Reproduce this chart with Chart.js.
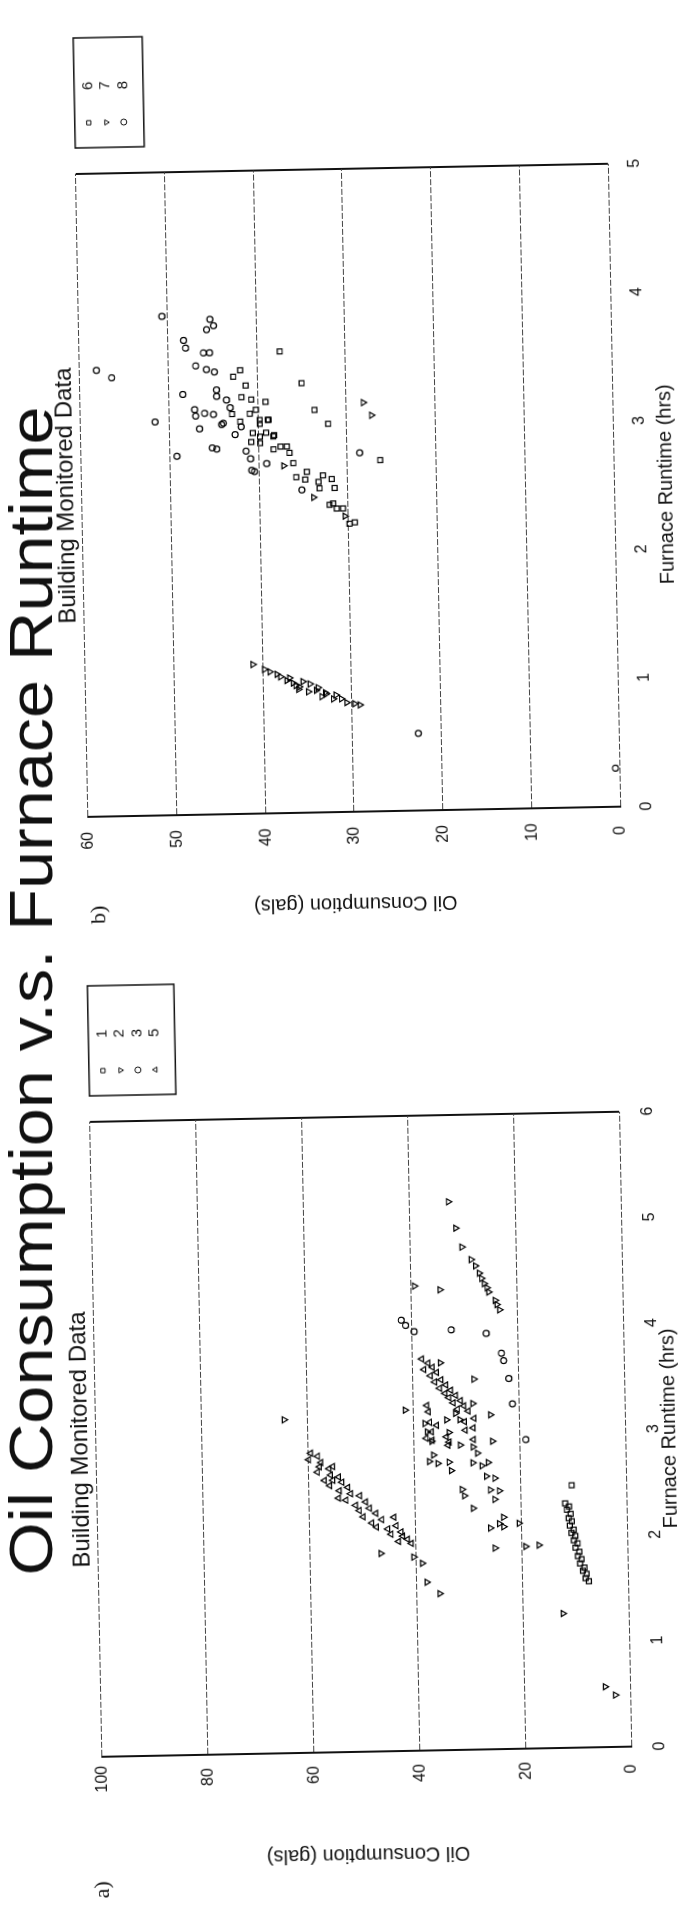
<!DOCTYPE html>
<html>
<head>
<meta charset="utf-8">
<title>Oil Consumption v.s. Furnace Runtime</title>
<script src="https://cdn.jsdelivr.net/npm/chart.js@4.4.1/dist/chart.umd.min.js"></script>
<style>
  html, body { margin: 0; padding: 0; background: #fff; }
  body { width: 687px; height: 1911px; overflow: hidden; position: relative; }
  /* the sheet is laid out landscape and turned onto the portrait page */
  #sheet {
    position: absolute; left: 0; top: 0;
    width: 1911px; height: 687px;
    transform-origin: 0 0;
    transform: translate(343.5px, 955.5px) rotate(-91.1deg) translate(-955.5px, -343.5px);
  }
  #heading {
    position: absolute; left: 0; top: 0; width: 1911px; height: 80px;
    transform-origin: 0 0;
    transform: translate(40px, 991px) rotate(-90deg) translate(-955.5px, -40px);
    text-align: center; white-space: nowrap;
    font: 61px/62px "Liberation Sans", Arial, sans-serif; color: #111;
  }
  #heading span { display: inline-block; }
  #panel-a { position: absolute; left: 0; top: 0; }
  #panel-b { position: absolute; left: 955px; top: 0; }
</style>
</head>
<body>
<div id="sheet">
  <canvas id="panel-a" width="955" height="687"></canvas>
  <canvas id="panel-b" width="956" height="687"></canvas>
</div>
<div id="heading"><span id="heading-text">Oil Consumption v.s. Furnace Runtime</span></div>
<script>
// axes
var runtimeTicksA = [0, 1, 2, 3, 4, 5, 6];
var oilTicksA = [0, 20, 40, 60, 80, 100];
var runtimeTicksB = [0, 1, 2, 3, 4, 5];
var oilTicksB = [0, 10, 20, 30, 40, 50, 60];

// building numbers in each panel
var buildingsA = ['1', '2', '3', '5'];
var buildingsB = ['6', '7', '8'];

// [runtime hrs, oil gals]
var bldg1 = [[2.48,10.3],[2.31,11.6],[2.28,10.9],[2.25,11.3],[2.21,10.6],[2.17,11.0],[2.14,10.4],[2.10,10.8],
  [2.06,10.1],[2.03,10.5],[2.00,9.8],[1.96,10.1],[1.93,9.4],[1.89,9.8],[1.85,9.1],[1.81,9.4],[1.78,8.7],
  [1.74,9.0],[1.70,8.2],[1.67,8.5],[1.64,7.8],[1.60,8.0],[1.57,7.4]];
var bldg2 = [[3.22,41.5],[3.09,37.8],[3.01,37.4],[2.92,36.6],[2.79,36.3],[2.73,37.1],[2.71,35.5],[2.72,33.4],
  [2.64,33.0],[3.12,33.7],[3.18,32.0],[3.12,31.2],[3.00,33.3],[3.27,28.7],[3.16,25.4],[2.88,31.2],[2.86,28.8],
  [2.71,28.9],[2.80,28.0],[2.68,27.2],[2.71,26.0],[2.91,25.1],[2.58,26.4],[2.56,24.8],[2.46,31.0],[2.40,30.6],
  [2.28,29.0],[2.45,25.7],[2.44,24.0],[2.36,24.9],[2.19,23.3],[2.13,24.1],[2.09,25.8],[2.10,23.3],[1.90,25.0],
  [2.13,20.4],[1.91,19.2],[1.92,16.7],[1.83,40.4],[1.77,38.8],[1.59,38.0],[1.48,35.6],[1.87,46.6],[0.57,4.7],
  [0.49,2.8],[1.27,12.4],[3.15,64.4],
  [5.18,32.6],[4.93,31.3],[4.75,30.2],[4.63,28.5],[4.57,27.7],[4.50,27.0],[4.45,26.6],[4.40,26.1],[4.36,25.6],
  [4.32,25.3],[4.24,24.1],[4.20,23.8],[4.15,23.3],[4.39,39.3],[4.35,34.5],[3.50,28.4],[3.66,34.7]];
var bldg3 = [[4.07,41.9],[4.02,41.1],[3.96,39.5],[3.97,32.5],[3.93,25.9],[3.74,23.1],[3.67,22.7],[3.50,21.8],
  [3.26,21.2],[2.92,18.8]];
var bldg5 = [[2.83,59.5],[2.80,58.2],[2.77,59.9],[2.74,57.6],[2.70,57.9],[2.68,56.1],[2.65,58.3],[2.62,55.8],
  [2.60,54.3],[2.57,55.4],[2.55,53.7],[2.52,56.0],[2.50,52.6],[2.47,54.2],[2.44,52.1],[2.42,50.4],[2.38,53.0],
  [2.36,49.3],[2.33,51.2],[2.30,48.6],[2.28,50.5],[2.25,47.4],[2.22,49.8],[2.21,44.0],[2.19,46.3],[2.16,48.2],
  [2.13,43.6],[2.12,47.3],[2.10,45.2],[2.07,42.7],[2.05,44.6],[2.03,42.4],[2.00,41.5],[1.98,43.2],[1.96,40.8],
  [2.40,54.4],[2.57,57.0],[2.70,55.4],
  [3.70,38.2],[3.66,37.0],[3.62,36.2],[3.60,37.8],[3.57,35.4],[3.54,36.6],[3.50,34.6],[3.48,35.8],[3.45,33.7],
  [3.42,34.9],[3.40,32.8],[3.37,33.9],[3.35,31.9],[3.33,33.2],[3.30,31.0],[3.28,32.4],[3.25,30.4],[3.22,31.6],
  [3.20,29.6],[3.26,37.4],[3.20,37.1],[3.10,36.9],[3.01,36.6],[3.07,35.6],[2.95,37.6],[2.93,36.5],[2.96,33.8],
  [2.88,33.5],[2.91,33.3],[3.10,30.3],[3.02,30.2],[3.04,28.7],[3.13,28.5],[2.93,28.7]];

var bldg6 = [[3.59,37.4],[3.34,35.0],[3.24,41.8],[3.40,42.7],[3.45,41.9],[3.33,41.3],[3.22,40.7],[3.14,40.2],
  [3.20,39.1],[3.03,39.8],[3.06,38.8],[2.93,38.3],[2.85,37.5],[2.80,36.5],[2.72,36.1],[2.93,39.8],[3.13,33.6],
  [3.02,32.1],[2.73,26.3],[3.11,40.9],[3.06,39.8],[3.06,38.9],[2.96,39.1],[2.96,40.6],[2.88,39.8],[2.83,38.3],
  [2.94,38.2],[2.85,36.8],[2.65,34.6],[2.61,35.8],[2.59,34.8],[2.57,33.3],[2.62,32.8],[2.52,33.2],[2.59,31.8],
  [2.52,31.5],[2.39,32.1],[2.36,31.3],[2.36,30.6],[2.24,29.9],[2.25,29.3],[3.05,42.0],[3.11,42.9],[2.89,40.8],
  [2.40,31.7]];
var bldg7 = [[1.16,41.1],[1.12,39.8],[1.10,39.2],[1.08,38.4],[1.06,38.0],[1.03,37.3],[1.01,36.6],[1.02,35.5],
  [0.96,36.0],[1.00,34.7],[0.98,35.9],[0.94,34.9],[0.95,34.0],[0.90,33.4],[0.92,32.9],[0.88,32.1],[0.88,31.2],
  [0.85,30.6],[0.84,29.7],[0.83,29.1],[0.97,33.8],[0.93,33.0],[0.99,36.3],[0.91,31.8],[1.05,37.0],
  [3.18,28.1],[3.08,27.2],[2.45,33.9],[2.30,30.4],[2.70,37.2]];
var bldg8 = [[3.47,58.1],[3.41,56.4],[3.06,51.6],[3.88,50.6],[2.79,49.2],[3.69,48.2],[3.63,48.0],[3.49,46.9],
  [3.27,48.4],[3.00,46.6],[3.15,47.1],[3.10,47.0],[3.12,46.0],[3.11,45.0],[3.25,44.6],[3.04,43.9],[2.95,42.6],
  [2.85,45.2],[2.84,44.7],[2.82,41.4],[2.76,40.9],[2.72,39.1],[3.77,45.6],[3.85,45.2],[3.80,44.8],[3.59,46.0],
  [3.59,45.3],[3.46,45.7],[3.44,44.8],[3.30,44.6],[3.22,43.5],[3.16,43.1],[3.01,41.9],[3.03,44.1],[2.66,40.5],
  [2.67,40.8],[2.51,35.2],[2.79,28.6],[0.60,22.6],[0.30,0.45]];

var INK = '#111';

Chart.defaults.font.family = '"Liberation Sans", Arial, Helvetica, sans-serif';
Chart.defaults.color = INK;

var markers = {
  '1': {style: 'rect', rot: 0, r: 3.5}, '6': {style: 'rect', rot: 0, r: 3.5},
  '2': {style: 'triangle', rot: 180, r: 3.5}, '7': {style: 'triangle', rot: 180, r: 3.5},
  '3': {style: 'circle', rot: 0, r: 3}, '8': {style: 'circle', rot: 0, r: 3},
  '5': {style: 'triangle', rot: 0, r: 3.5}
};

function toXY(pts) {
  return pts.map(function (p) { return {x: p[0], y: p[1]}; });
}

function makeSet(name, pts) {
  var m = markers[name];
  return {
    label: name,
    data: toXY(pts),
    pointStyle: m.style,
    pointRotation: m.rot,
    pointRadius: m.r,
    pointHoverRadius: m.r,
    pointBorderWidth: 1.2,
    borderColor: '#000',
    backgroundColor: 'rgba(0,0,0,0)'
  };
}

// boxed key at the right of the plot plus the panel letter
var keyBox = {
  id: 'keyBox',
  afterDraw: function (chart, args, opts) {
    var ctx = chart.ctx;
    var area = chart.chartArea;
    var sets = chart.data.datasets;
    var x0 = area.right + opts.gap;
    var y0 = area.top;
    var h = 14 + (sets.length - 1) * 17.5 + 20;
    ctx.save();
    ctx.strokeStyle = INK;
    ctx.lineWidth = 1.5;
    ctx.strokeRect(x0, y0, 110, h);
    ctx.font = '15px "Liberation Sans", Arial, sans-serif';
    ctx.textAlign = 'center';
    ctx.textBaseline = 'middle';
    sets.forEach(function (ds, i) {
      var y = y0 + 14 + i * 17.5;
      ctx.fillStyle = 'rgba(0,0,0,0)';
      ctx.lineWidth = 1;
      Chart.helpers.drawPoint(ctx, {pointStyle: ds.pointStyle, rotation: ds.pointRotation, radius: 3, borderWidth: 1}, x0 + 25, y);
      ctx.fillStyle = INK;
      ctx.fillText(ds.label, x0 + 62, y);
    });
    ctx.font = '22px "Liberation Serif", "Times New Roman", serif';
    ctx.fillText(opts.tag, opts.tagX, opts.tagY);
    ctx.restore();
  }
};

function makePanel(id, cfg) {
  var xMax = cfg.xTicks[cfg.xTicks.length - 1];
  var yMax = cfg.yTicks[cfg.yTicks.length - 1];
  return new Chart(document.getElementById(id), {
    type: 'scatter',
    data: {datasets: cfg.datasets},
    options: {
      responsive: false,
      animation: false,
      events: [],
      layout: {padding: {left: 0, top: 0, bottom: 0, right: cfg.padRight}},
      plugins: {
        legend: {display: false},
        tooltip: {enabled: false},
        title: {
          display: true,
          text: 'Building Monitored Data',
          fullSize: false,
          color: INK,
          font: {size: 24, weight: 'normal'},
          padding: {top: cfg.subTop, bottom: 1}
        },
        keyBox: {gap: 26, tag: cfg.tag, tagX: cfg.tagX, tagY: cfg.tagY}
      },
      scales: {
        x: {
          type: 'linear',
          min: cfg.xTicks[0],
          max: xMax,
          ticks: {stepSize: cfg.xTicks[1] - cfg.xTicks[0], padding: cfg.xPad, font: {size: 16}, color: INK},
          grid: {
            drawTicks: false,
            lineWidth: 2,
            color: function (c) { return c.tick && c.tick.value === xMax ? INK : 'rgba(0,0,0,0)'; }
          },
          border: {display: false},
          title: {display: true, text: 'Furnace Runtime (hrs)', color: INK, font: {size: 20}, padding: {top: 0, bottom: cfg.xTitlePad}},
          afterFit: function (s) { s.height = cfg.xHeight; }
        },
        y: {
          type: 'linear',
          min: cfg.yTicks[0],
          max: yMax,
          ticks: {stepSize: cfg.yTicks[1] - cfg.yTicks[0], padding: cfg.yPad, crossAlign: 'center', font: {size: 16}, color: INK},
          grid: {drawTicks: false, color: '#444', lineWidth: 1},
          border: {display: true, color: INK, width: 2, dash: [6, 2]},
          title: {display: true, text: 'Oil Consumption (gals)', color: INK, font: {size: 20}, padding: {top: cfg.yTitlePad}},
          afterFit: function (s) { s.width = cfg.yWidth; }
        }
      }
    },
    plugins: [keyBox]
  });
}

var setsA = [bldg1, bldg2, bldg3, bldg5].map(function (pts, i) { return makeSet(buildingsA[i], pts); });
var setsB = [bldg6, bldg7, bldg8].map(function (pts, i) { return makeSet(buildingsB[i], pts); });

makePanel('panel-a', {
  datasets: setsA, xTicks: runtimeTicksA, yTicks: oilTicksA,
  padRight: 161, subTop: 57, xHeight: 71, xPad: 19, xTitlePad: 15,
  yWidth: 159, yPad: 9, yTitlePad: 44,
  tag: 'a)', tagX: 26, tagY: 85
});

makePanel('panel-b', {
  datasets: setsB, xTicks: runtimeTicksB, yTicks: oilTicksB,
  padRight: 169, subTop: 61, xHeight: 64, xPad: 17, xTitlePad: 0,
  yWidth: 144, yPad: 15, yTitlePad: 40,
  tag: 'b)', tagX: 46, tagY: 100
});

// stretch the heading to its printed length
var heading = document.getElementById('heading-text');
heading.style.transform = 'scaleX(' + (1169 / heading.offsetWidth).toFixed(3) + ')';
</script>
</body>
</html>
